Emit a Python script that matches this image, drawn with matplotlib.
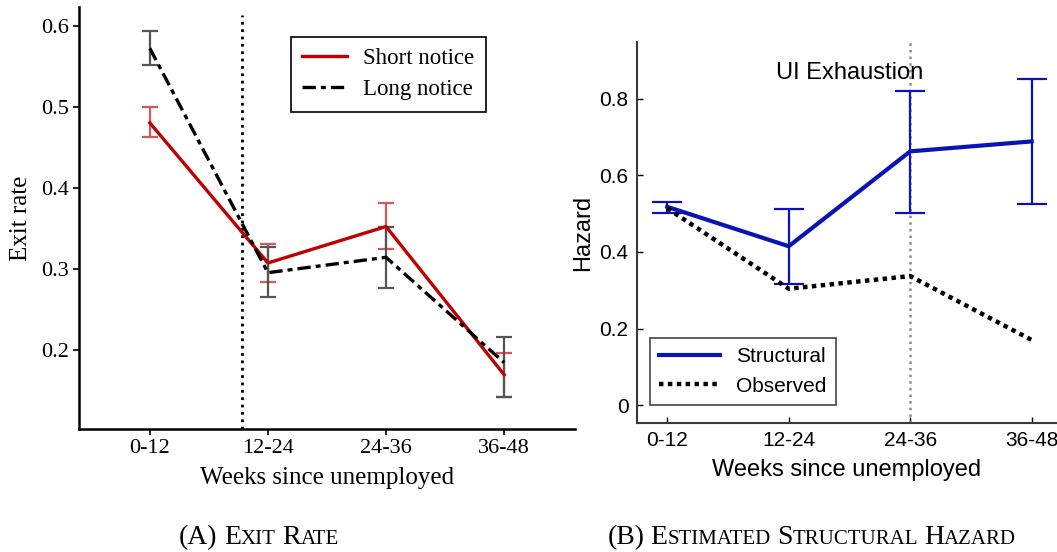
import matplotlib
matplotlib.use('Agg')
import matplotlib.pyplot as plt
import numpy as np

weeks = ['0-12', '12-24', '24-36', '36-48']

# panel A: exit rates by notice length
short_rate = [0.480, 0.307, 0.352, 0.169]
short_lo = [0.463, 0.284, 0.324, 0.142]
short_hi = [0.499, 0.330, 0.381, 0.196]
long_rate = [0.572, 0.295, 0.314, 0.184]
long_lo = [0.551, 0.265, 0.276, 0.142]
long_hi = [0.593, 0.327, 0.351, 0.216]
notice_cut = 0.78

# panel B: structural vs observed hazard
struct_haz = [0.518, 0.415, 0.663, 0.689]
struct_lo = [0.503, 0.316, 0.503, 0.525]
struct_hi = [0.530, 0.513, 0.822, 0.853]
obs_haz = [0.514, 0.304, 0.337, 0.170]
ui_exhaust = 2

SERIF = 'Liberation Serif'
SANS = 'Liberation Sans'


def errs(mid, lo, hi):
    mid, lo, hi = map(np.asarray, (mid, lo, hi))
    return np.vstack([mid - lo, hi - mid])


def small_caps(fig, xc, y, text, big, small, family):
    # fake small caps: upper-case letters big, lower-case letters drawn as small capitals
    r = fig.canvas.get_renderer()
    W = fig.bbox.width
    runs = []
    for i, word in enumerate(text.split(' ')):
        if i:
            runs.append((None, big * 0.22))
        cur, cur_sz = '', None
        for ch in word:
            sz = small if ch.islower() else big
            if sz != cur_sz and cur:
                runs.append((cur, cur_sz))
                cur = ''
            cur += ch.upper()
            cur_sz = sz
        runs.append((cur, cur_sz))
    objs, total = [], 0
    for s, sz in runs:
        if s is None:
            objs.append((None, sz * 100 / 72))
            total += sz * 100 / 72
            continue
        t = fig.text(0, y, s, fontsize=sz, family=family, va='baseline')
        w = t.get_window_extent(r).width
        objs.append((t, w))
        total += w
    x = xc * W - total / 2
    for t, w in objs:
        if t is not None:
            t.set_x(x / W)
        x += w


fig = plt.figure(figsize=(10.57, 5.52), dpi=100)
x = np.arange(len(weeks))

# ---- left: exit rate ----
ax1 = fig.add_axes([0.0747, 0.2228, 0.4693, 0.7645])
ax1.axvline(notice_cut, ymax=0.98, color='k', ls=':', lw=2)
ax1.errorbar(x, short_rate, yerr=errs(short_rate, short_lo, short_hi), fmt='none',
             ecolor='#d05a5a', elinewidth=1.6, capsize=6, capthick=1.6)
ax1.errorbar(x, long_rate, yerr=errs(long_rate, long_lo, long_hi), fmt='none',
             ecolor='#555555', elinewidth=1.6, capsize=6, capthick=1.6)
ax1.plot(x, short_rate, color='#c00000', lw=2.4, label='Short notice')
ax1.plot(x, long_rate, color='k', lw=2.4, dashes=(4, 1.5, 1.5, 1.5), label='Long notice')
ax1.set_xlim(-0.6, 3.6)
ax1.set_ylim(0.102, 0.623)
ax1.set_xticks(x)
ax1.set_xticklabels(weeks)
ax1.set_yticks([0.2, 0.3, 0.4, 0.5, 0.6])
for s in ['top', 'right']:
    ax1.spines[s].set_visible(False)
for s in ['left', 'bottom']:
    ax1.spines[s].set_linewidth(1.8)
ax1.tick_params(direction='out', length=4, width=1.2, labelsize=16)
for lab in ax1.get_xticklabels() + ax1.get_yticklabels():
    lab.set_family(SERIF)
ax1.set_xlabel('Weeks since unemployed', family=SERIF, fontsize=18, labelpad=6)
ax1.set_ylabel('Exit rate', family=SERIF, fontsize=18, labelpad=6)
leg1 = ax1.legend(loc='upper left', bbox_to_anchor=(0.427, 0.93), borderaxespad=0,
                  fancybox=False, edgecolor='k', framealpha=1,
                  prop={'family': SERIF, 'size': 16.5},
                  handlelength=1.95, handletextpad=0.7, borderpad=0.5, labelspacing=0.45)
leg1.get_frame().set_linewidth(1.2)

# ---- right: hazard ----
ax2 = fig.add_axes([0.6026, 0.2337, 0.3964, 0.6903])
ax2.axvline(ui_exhaust, color='#8a8a8a', ls=':', lw=1.8)
ax2.errorbar(x, struct_haz, yerr=errs(struct_haz, struct_lo, struct_hi), fmt='none',
             ecolor='#0a14b4', elinewidth=1.6, capsize=11, capthick=1.6)
ax2.plot(x, struct_haz, color='#0a14b4', lw=3, label='Structural')
ax2.plot(x, obs_haz, color='k', lw=3.2, dashes=(1, 1), dash_capstyle='butt',
         label='Observed')
ax2.text(1.5, 0.868, 'UI Exhaustion', family=SANS, fontsize=17, ha='center', va='center')
ax2.set_xlim(-0.25, 3.2)
ax2.set_ylim(-0.047, 0.949)
ax2.set_xticks(x)
ax2.set_xticklabels(weeks)
ax2.set_yticks([0, 0.2, 0.4, 0.6, 0.8])
ax2.set_yticklabels(['0', '0.2', '0.4', '0.6', '0.8'])
for s in ['top', 'right']:
    ax2.spines[s].set_visible(False)
for s in ['left', 'bottom']:
    ax2.spines[s].set_linewidth(1.5)
    ax2.spines[s].set_color('#3a3a3a')
ax2.tick_params(direction='in', length=4, width=1, labelsize=15, pad=6)
for lab in ax2.get_xticklabels() + ax2.get_yticklabels():
    lab.set_family(SANS)
ax2.set_xlabel('Weeks since unemployed', family=SANS, fontsize=17, labelpad=6)
ax2.set_ylabel('Hazard', family=SANS, fontsize=17, labelpad=4)
leg2 = ax2.legend(loc='lower left', bbox_to_anchor=(0.031, 0.047), borderaxespad=0,
                  fancybox=False, edgecolor='#444444', framealpha=1,
                  prop={'family': SANS, 'size': 15},
                  handlelength=2.9, borderpad=0.45, labelspacing=0.5)
leg2.get_frame().set_linewidth(1.2)

small_caps(fig, 0.245, 0.014, '(A) Exit Rate', 20, 15, SERIF)
small_caps(fig, 0.768, 0.014, '(B) Estimated Structural Hazard', 20, 15, SERIF)

fig.savefig('out.png', dpi=100)
